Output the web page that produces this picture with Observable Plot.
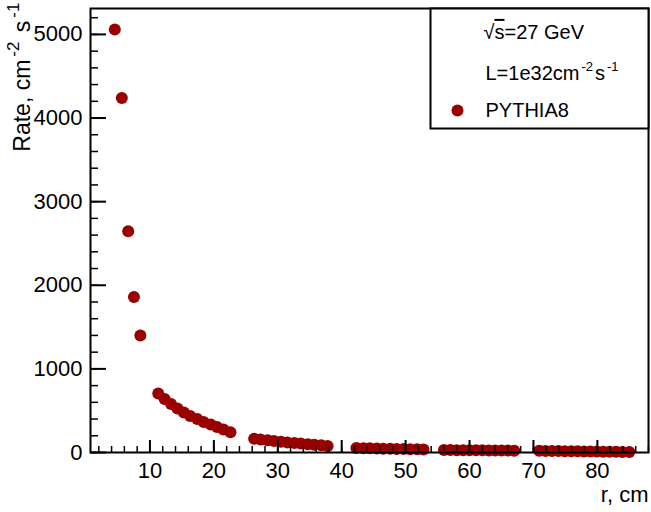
<!DOCTYPE html>
<html><head><meta charset="utf-8">
<script src="https://cdn.jsdelivr.net/npm/d3@7"></script>
<script src="https://cdn.jsdelivr.net/npm/@observablehq/plot@0.6"></script>
<style>body{margin:0;background:#fff} svg{display:block}</style>
</head><body><div id="chart"></div>
<script>
// radius (cm)
const radius = [
  4.5, 5.6, 6.6, 7.5, 8.5,
  11.3, 12.3, 13.3, 14.3, 15.3, 16.3, 17.4, 18.4, 19.5, 20.5, 21.5, 22.6,
  26.3, 27.3, 28.4, 29.4, 30.5, 31.5, 32.6, 33.6, 34.7, 35.7, 36.8, 37.8,
  42.3, 43.4, 44.4, 45.5, 46.5, 47.6, 48.6, 49.7, 50.7, 51.8, 52.8,
  56.0, 57.0, 58.0, 59.0, 60.0, 61.0, 62.0, 63.0, 64.0, 65.0, 66.0, 67.0,
  70.9, 71.9, 72.9, 73.9, 74.9, 75.9, 76.9, 77.9, 78.9, 79.9, 80.9, 81.9, 82.9, 83.9, 85.0
];
// rate (cm^-2 s^-1)
const rate = [
  5060, 4240, 2645, 1860, 1400,
  705, 640, 580, 525, 478, 437, 400, 366, 335, 306, 276, 242,
  165, 155, 146, 137, 129, 121, 114, 107, 100, 93, 86, 78,
  54, 52, 50, 48, 46, 45, 43, 42, 40, 39, 37,
  30, 29, 28, 27.5, 27, 26, 25.5, 25, 24, 23.5, 23, 22,
  20, 19, 18, 17, 16, 15, 14, 13, 12, 11, 10, 9, 8, 7, 5
];
const xMajor = [10, 20, 30, 40, 50, 60, 70, 80];
const yMajor = [0, 1000, 2000, 3000, 4000, 5000];
const xMinor = d3.range(2, 89, 2);
const yMinor = d3.range(0, 5301, 200);
// text pieces: [text, style] with style "" normal, "sup" superscript, "bar" overlined
const energyParts = [["√", ""], ["s", "bar"], ["=27 GeV", ""]];
const lumiParts = [["L=1e32cm", ""], ["-2", "sup"], ["s", ""], ["-1", "sup"]];
const seriesName = "PYTHIA8";
const xLabel = "r, cm";
const yLabelParts = [["Rate, cm", ""], ["-2", "sup"], [" s", ""], ["-1", "sup"]];

const join = parts => parts.map(p => p[0]).join("");
const W = 651, H = 512, mL = 90, mR = 3, mT = 8, mB = 60;
const innerW = W - mL - mR, innerH = H - mT - mB;
const font = "'Liberation Sans', Arial, Helvetica, sans-serif";
const red = "#990000";
const data = radius.map((r, i) => ({r, rate: rate[i]}));

const chart = Plot.plot({
  width: W, height: H,
  marginLeft: mL, marginRight: mR, marginTop: mT, marginBottom: mB,
  style: {fontFamily: font, background: "#fff", color: "#000", overflow: "visible"},
  x: {domain: [0.7, 88], label: null},
  y: {domain: [0, 5310], label: null},
  marks: [
    Plot.dot(data, {x: "r", y: "rate", r: 6, fill: red}),
    Plot.tickY(yMajor, {y: d => d, insetRight: innerW - 16, stroke: "#000", strokeWidth: 2}),
    Plot.tickY(yMinor, {y: d => d, insetRight: innerW - 8, stroke: "#000", strokeWidth: 1.5}),
    Plot.tickX(xMajor, {x: d => d, insetTop: innerH - 12, stroke: "#000", strokeWidth: 2}),
    Plot.tickX(xMinor, {x: d => d, insetTop: innerH - 6, stroke: "#000", strokeWidth: 1.5}),
    Plot.frame({stroke: "#000", strokeWidth: 2}),
    Plot.axisY(yMajor, {tickSize: 0, tickPadding: 8, fontSize: 22, tickFormat: d3.format("d"), label: null}),
    Plot.axisX(xMajor, {tickSize: 0, tickPadding: 10, fontSize: 22, tickFormat: d3.format("d"), label: null}),
    Plot.text([join(yLabelParts)], {frameAnchor: "top-left", rotate: -90, dx: -68, dy: -6, textAnchor: "end", lineAnchor: "middle", fontSize: 23, className: "rich-ylabel"}),
    Plot.text([xLabel], {frameAnchor: "bottom-right", dy: 42, textAnchor: "end", lineAnchor: "middle", fontSize: 22}),
    // legend
    Plot.frame({insetLeft: 340, insetBottom: innerH - 120, fill: "#fff", stroke: "#000", strokeWidth: 2}),
    Plot.text([join(energyParts)], {frameAnchor: "top-left", dx: 393, dy: 24, textAnchor: "start", lineAnchor: "middle", fontSize: 20, className: "rich-energy"}),
    Plot.text([join(lumiParts)], {frameAnchor: "top-left", dx: 395, dy: 65, textAnchor: "start", lineAnchor: "middle", fontSize: 20, className: "rich-lumi"}),
    Plot.text([seriesName], {frameAnchor: "top-left", dx: 395, dy: 102, textAnchor: "start", lineAnchor: "middle", fontSize: 20}),
    Plot.dot([seriesName], {frameAnchor: "top-left", dx: 367, dy: 102, r: 6, fill: red})
  ]
});

// rich text: superscripts and overline
function richify(cls, parts, supSize, rise, gap) {
  d3.select(chart).selectAll(`g.${cls} text`).each(function () {
    const t = d3.select(this);
    t.text(null);
    let shifted = false;
    for (const [s, style] of parts) {
      const sp = t.append("tspan").text(s);
      if (style === "sup") {
        sp.attr("font-size", supSize).attr("dy", -rise).attr("dx", gap);
        shifted = true;
      } else {
        if (shifted) { sp.attr("dy", rise).attr("dx", gap); shifted = false; }
        if (style === "bar") sp.style("text-decoration", "overline");
      }
    }
  });
}
richify("rich-ylabel", yLabelParts, 17, 11, 3);
richify("rich-lumi", lumiParts, 13, 9, 2);
richify("rich-energy", energyParts, 20, 0, 0);
document.getElementById("chart").appendChild(chart);
</script>
</body></html>
